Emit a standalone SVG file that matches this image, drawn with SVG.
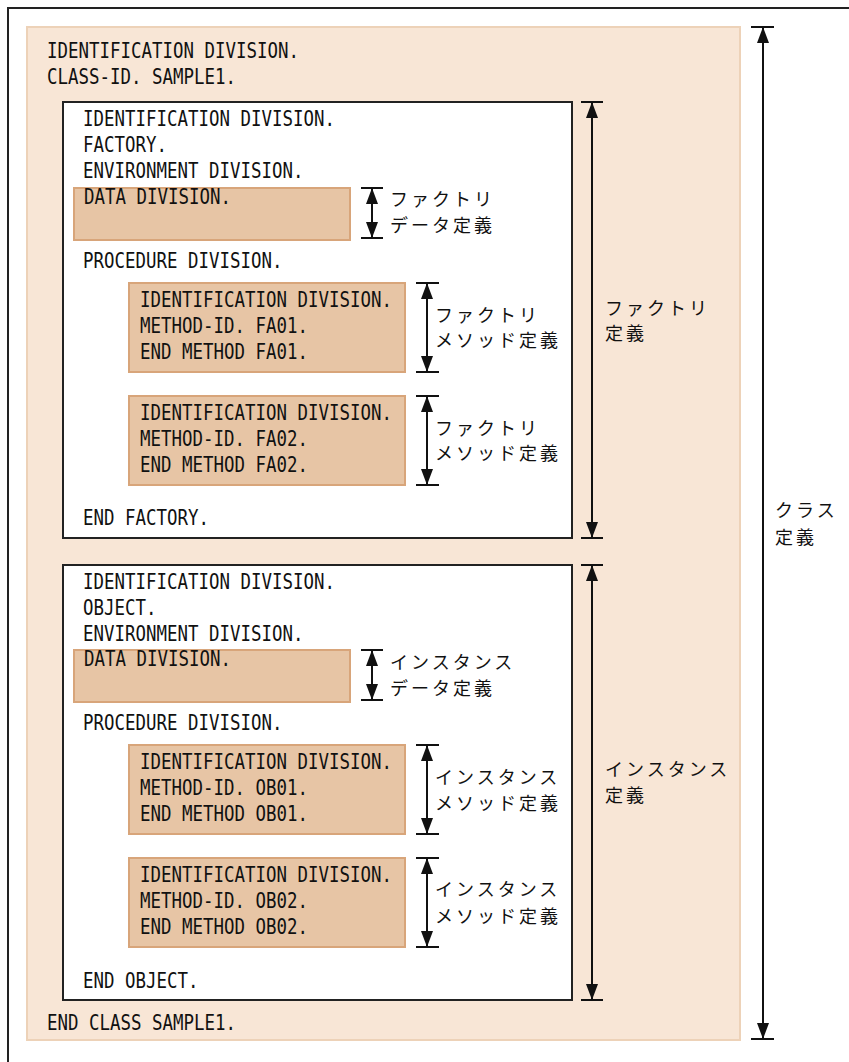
<svg xmlns="http://www.w3.org/2000/svg" width="849" height="1062" viewBox="0 0 849 1062">
<style>
.code{font-family:"DejaVu Sans Mono","Liberation Mono",monospace;font-size:21px;fill:#111}
.jp{font-family:"Noto Sans CJK JP","Noto Sans CJK SC",sans-serif;font-size:18px;letter-spacing:3px;fill:#111}
.box{fill:#fff;stroke:#222;stroke-width:2}
.blk{fill:#E7C5A5;stroke:#D8A57A;stroke-width:2}
.dim{stroke:#111;stroke-width:2;fill:none}
</style>
<defs>
<marker id="ah" viewBox="0 0 16 12" refX="16" refY="6" markerWidth="16" markerHeight="12" markerUnits="userSpaceOnUse" orient="auto-start-reverse">
<path d="M0,0 L16,6 L0,12 z" fill="#111"/>
</marker>
</defs>
<rect width="849" height="1062" fill="#fff"/>
<path d="M8,1062 V8 H849" fill="none" stroke="#222" stroke-width="2"/>
<g id="class">
<rect x="27" y="27" width="713" height="1013" fill="#F8E6D6" stroke="#EDD2B8" stroke-width="2"/>
<text class="code" x="47" y="58" textLength="252" lengthAdjust="spacingAndGlyphs">IDENTIFICATION DIVISION.</text>
<text class="code" x="47" y="84" textLength="189" lengthAdjust="spacingAndGlyphs">CLASS-ID. SAMPLE1.</text>
<text class="code" x="47" y="1030" textLength="189" lengthAdjust="spacingAndGlyphs">END CLASS SAMPLE1.</text>
</g>
<g id="factory">
<rect class="box" x="63" y="102" width="509" height="436"/>
<text class="code" x="83" y="126" textLength="252" lengthAdjust="spacingAndGlyphs">IDENTIFICATION DIVISION.</text>
<text class="code" x="83" y="152" textLength="84" lengthAdjust="spacingAndGlyphs">FACTORY.</text>
<text class="code" x="83" y="178" textLength="220.5" lengthAdjust="spacingAndGlyphs">ENVIRONMENT DIVISION.</text>
<text class="code" x="83" y="268" textLength="199.5" lengthAdjust="spacingAndGlyphs">PROCEDURE DIVISION.</text>
<text class="code" x="83" y="525" textLength="126" lengthAdjust="spacingAndGlyphs">END FACTORY.</text>
</g>
<g id="factory-data">
<rect class="blk" x="74" y="188" width="276" height="52"/>
<text class="code" x="84" y="204" textLength="147" lengthAdjust="spacingAndGlyphs">DATA DIVISION.</text>
</g>
<g id="fa01">
<rect class="blk" x="129" y="283" width="276" height="89"/>
<text class="code" x="140" y="307" textLength="252" lengthAdjust="spacingAndGlyphs">IDENTIFICATION DIVISION.</text>
<text class="code" x="140" y="333" textLength="168" lengthAdjust="spacingAndGlyphs">METHOD-ID. FA01.</text>
<text class="code" x="140" y="359" textLength="168" lengthAdjust="spacingAndGlyphs">END METHOD FA01.</text>
</g>
<g id="fa02">
<rect class="blk" x="129" y="396" width="276" height="89"/>
<text class="code" x="140" y="420" textLength="252" lengthAdjust="spacingAndGlyphs">IDENTIFICATION DIVISION.</text>
<text class="code" x="140" y="446" textLength="168" lengthAdjust="spacingAndGlyphs">METHOD-ID. FA02.</text>
<text class="code" x="140" y="472" textLength="168" lengthAdjust="spacingAndGlyphs">END METHOD FA02.</text>
</g>
<g id="object">
<rect class="box" x="63" y="565" width="509" height="435"/>
<text class="code" x="83" y="589" textLength="252" lengthAdjust="spacingAndGlyphs">IDENTIFICATION DIVISION.</text>
<text class="code" x="83" y="615" textLength="73.5" lengthAdjust="spacingAndGlyphs">OBJECT.</text>
<text class="code" x="83" y="641" textLength="220.5" lengthAdjust="spacingAndGlyphs">ENVIRONMENT DIVISION.</text>
<text class="code" x="83" y="730" textLength="199.5" lengthAdjust="spacingAndGlyphs">PROCEDURE DIVISION.</text>
<text class="code" x="83" y="988" textLength="115.5" lengthAdjust="spacingAndGlyphs">END OBJECT.</text>
</g>
<g id="object-data">
<rect class="blk" x="74" y="650" width="276" height="52"/>
<text class="code" x="84" y="666" textLength="147" lengthAdjust="spacingAndGlyphs">DATA DIVISION.</text>
</g>
<g id="ob01">
<rect class="blk" x="129" y="745" width="276" height="89"/>
<text class="code" x="140" y="769" textLength="252" lengthAdjust="spacingAndGlyphs">IDENTIFICATION DIVISION.</text>
<text class="code" x="140" y="795" textLength="168" lengthAdjust="spacingAndGlyphs">METHOD-ID. OB01.</text>
<text class="code" x="140" y="821" textLength="168" lengthAdjust="spacingAndGlyphs">END METHOD OB01.</text>
</g>
<g id="ob02">
<rect class="blk" x="129" y="858" width="276" height="89"/>
<text class="code" x="140" y="882" textLength="252" lengthAdjust="spacingAndGlyphs">IDENTIFICATION DIVISION.</text>
<text class="code" x="140" y="908" textLength="168" lengthAdjust="spacingAndGlyphs">METHOD-ID. OB02.</text>
<text class="code" x="140" y="934" textLength="168" lengthAdjust="spacingAndGlyphs">END METHOD OB02.</text>
</g>
<g id="connectors">
<path class="dim" d="M751,27 H774 M751,1039 H774"/>
<line class="dim" x1="763" y1="27" x2="763" y2="1039" marker-start="url(#ah)" marker-end="url(#ah)"/>
<path class="dim" d="M581,102 H603 M581,538 H603"/>
<line class="dim" x1="592" y1="102" x2="592" y2="538" marker-start="url(#ah)" marker-end="url(#ah)"/>
<path class="dim" d="M581,565 H603 M581,1000 H603"/>
<line class="dim" x1="592" y1="565" x2="592" y2="1000" marker-start="url(#ah)" marker-end="url(#ah)"/>
<path class="dim" d="M361,188 H383 M361,238 H383"/>
<line class="dim" x1="372" y1="188" x2="372" y2="238" marker-start="url(#ah)" marker-end="url(#ah)"/>
<path class="dim" d="M416,283 H439 M416,372 H439"/>
<line class="dim" x1="427" y1="283" x2="427" y2="372" marker-start="url(#ah)" marker-end="url(#ah)"/>
<path class="dim" d="M416,396 H439 M416,485 H439"/>
<line class="dim" x1="427" y1="396" x2="427" y2="485" marker-start="url(#ah)" marker-end="url(#ah)"/>
<path class="dim" d="M361,650 H383 M361,700 H383"/>
<line class="dim" x1="372" y1="650" x2="372" y2="700" marker-start="url(#ah)" marker-end="url(#ah)"/>
<path class="dim" d="M416,745 H439 M416,834 H439"/>
<line class="dim" x1="427" y1="745" x2="427" y2="834" marker-start="url(#ah)" marker-end="url(#ah)"/>
<path class="dim" d="M416,858 H439 M416,947 H439"/>
<line class="dim" x1="427" y1="858" x2="427" y2="947" marker-start="url(#ah)" marker-end="url(#ah)"/>
</g>
<g id="labels">
<text class="jp" x="390" y="206">ファクトリ</text>
<text class="jp" x="390" y="232">データ定義</text>
<text class="jp" x="435" y="322">ファクトリ</text>
<text class="jp" x="435" y="347">メソッド定義</text>
<text class="jp" x="435" y="435">ファクトリ</text>
<text class="jp" x="435" y="460">メソッド定義</text>
<text class="jp" x="605" y="315">ファクトリ</text>
<text class="jp" x="605" y="340">定義</text>
<text class="jp" x="775" y="517">クラス</text>
<text class="jp" x="775" y="544">定義</text>
<text class="jp" x="390" y="669">インスタンス</text>
<text class="jp" x="390" y="695">データ定義</text>
<text class="jp" x="435" y="784">インスタンス</text>
<text class="jp" x="435" y="810">メソッド定義</text>
<text class="jp" x="435" y="896">インスタンス</text>
<text class="jp" x="435" y="923">メソッド定義</text>
<text class="jp" x="605" y="776">インスタンス</text>
<text class="jp" x="605" y="802">定義</text>
</g>
</svg>
